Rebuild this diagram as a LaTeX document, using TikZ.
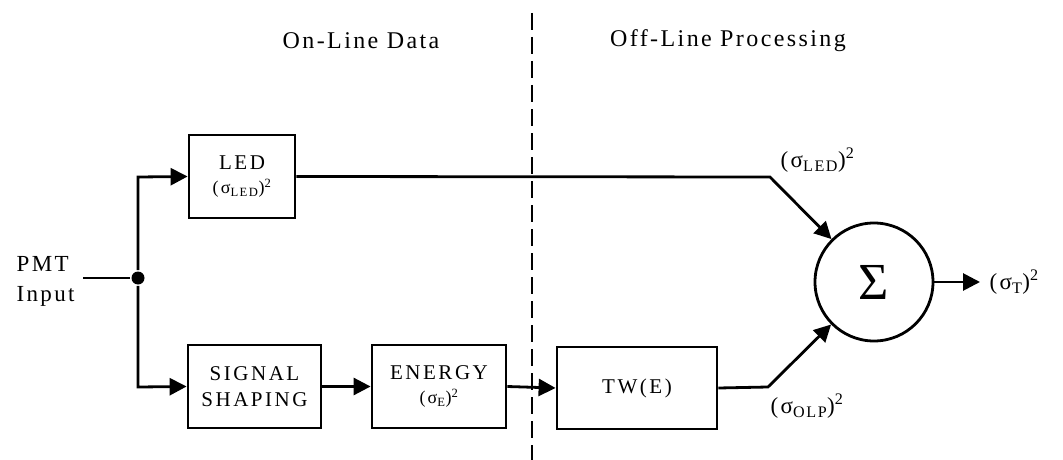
\documentclass[tikz,border=0pt]{standalone}
\usepackage{fontspec}
\setmainfont{Liberation Serif}
\usetikzlibrary{arrows.meta}
\newcommand{\sg}[1]{(σ\textsubscript{#1})\textsuperscript{2}}
\begin{document}
\begin{tikzpicture}[x=1pt,y=-1pt,line width=2.8pt,
  blk/.style={draw,line width=2.8pt,minimum height=83pt,inner sep=0pt,align=center,font=\fontsize{21}{26}\selectfont\addfontfeatures{LetterSpace=12}},
  lbl/.style={font=\fontsize{23}{30}\selectfont\addfontfeatures{LetterSpace=10}},
  hdr/.style={font=\fontsize{24}{28}\selectfont\addfontfeatures{LetterSpace=10}},
  arr/.style={-{Triangle[length=17pt,width=17pt]}},
  sep/.style={line width=2.2pt,dash pattern=on 17pt off 7pt}]
\useasboundingbox (0,0) rectangle (1063,460);
\node[hdr] (hon) at (361,41) {On-Line Data};
\node[hdr] (hoff) at (728,41) {Off-Line Processing};
\coordinate (st) at (532,13);
\coordinate (sb) at (532,460);
\draw[sep] (st) -- (sb);
\node[blk,minimum width=106pt] (led) at (242,176.5) {LED\\[-2pt]{\fontsize{18}{20}\selectfont\sg{LED}}};
\node[blk,minimum width=133pt] (sig) at (254.5,386.5) {SIGNAL\\SHAPING};
\node[blk,minimum width=134pt] (en) at (439,386.5) {ENERGY\\[-2pt]{\fontsize{18}{20}\selectfont\sg{E}}};
\node[blk,minimum width=160pt,minimum height=82pt] (tw) at (637,388) {TW(E)};
\node[draw,circle,line width=2.8pt,minimum size=118pt,inner sep=0pt,font=\fontsize{52}{52}\selectfont] (sum) at (874,282) {Σ};
\node[lbl,align=left,anchor=west] (pmt) at (12,281) {PMT\\Input};
\coordinate (in) at (83,278);
\node[circle,fill,inner sep=0pt,minimum size=13pt] (dot) at (138,278) {};
\coordinate (c1) at (138,177);
\coordinate (c2) at (138,387);
\coordinate (k1) at (770,177);
\coordinate (k2) at (768,387);
\coordinate (out) at (980,282);
\draw (in) -- (dot);
\draw[arr] (dot) -- (c1) -- (led.west);
\draw[arr] (dot) -- (c2) -- (sig.west);
\draw[arr] (sig.east) -- (en.west);
\draw[arr] (en.east) -- (tw.west);
\draw[arr] (led.east) -- (k1) -- (sum);
\draw[arr] (tw.east) -- (k2) -- (sum);
\draw[arr] (sum.east) -- (out);
\node[lbl,anchor=west] (l1) at (776,160) {\sg{LED}};
\node[lbl,anchor=west] (l2) at (766,406) {\sg{OLP}};
\node[lbl,anchor=west] (l3) at (985,282) {\sg{T}};
\end{tikzpicture}
\end{document}
